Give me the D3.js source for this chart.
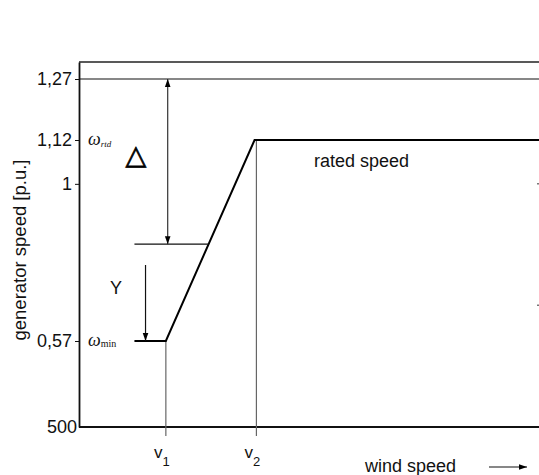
<!DOCTYPE html>
<html><head><meta charset="utf-8">
<script src="https://cdn.jsdelivr.net/npm/d3@7"></script>
<style>
html,body{margin:0;padding:0;background:#fff;}
svg{display:block;font-family:"Liberation Sans",Arial,sans-serif;}
</style></head>
<body><svg id="c" width="539" height="475"></svg>
<script>
// ---- data ----
const yTickValues = [0.3, 0.57, 1, 1.12, 1.27];
const yTickLabels = ["500", "0,57", "1", "1,12", "1,27"];
const xMarkers = [4.7, 9.6];           // v1, v2
const xMarkerNames = ["1", "2"];
const xMarkerLevels = [0.57, 1.12];
const curveX = [3.0, 4.7, 9.5, 25];
const curveY = [0.57, 0.57, 1.12, 1.12];
const maxLevel = 1.27;
const deltaLevel = 0.835;
const deltaLineX = [3.0, 7.0];
const deltaArrowX = 4.8;
const yArrowX = 3.6;
const yArrowTop = 0.778;
const rightTicks = [1, 0.668];

const svg = d3.select("#c");
const x = d3.scaleLinear().domain([0, 25]).range([79, 541]);
const y = d3.scaleLinear().domain([0.3, 0.57, 1.12, 1.27, 1.32]).range([427, 341, 140, 79, 62]);

const defs = svg.append("defs");
function marker(id, orient) {
  defs.append("marker").attr("id", id).attr("viewBox", "0 0 10 10")
    .attr("refX", 10).attr("refY", 5).attr("markerWidth", 8).attr("markerHeight", 8)
    .attr("markerUnits", "userSpaceOnUse").attr("orient", orient)
    .append("path").attr("d", "M0,1.5 L10,5 L0,8.5 Z").attr("fill", "#000");
}
marker("ah", "auto");
marker("ahs", "auto-start-reverse");

// frame
const X0 = x.range()[0], X1 = x.range()[1];
svg.append("line").attr("x1", X0).attr("x2", X1).attr("y1", y(1.32)).attr("y2", y(1.32)).attr("stroke", "#222").attr("stroke-width", 1.5);
svg.append("line").attr("x1", X1).attr("x2", X1).attr("y1", y(1.32)).attr("y2", y(0.3)).attr("stroke", "#222").attr("stroke-width", 1.5);
svg.append("line").attr("x1", X0).attr("x2", X1).attr("y1", y(0.3)).attr("y2", y(0.3)).attr("stroke", "#111").attr("stroke-width", 2);

// left axis
const ax = svg.append("g").attr("transform", `translate(${X0},0)`)
  .call(d3.axisLeft(y).tickValues(yTickValues).tickFormat((d, i) => yTickLabels[i]).tickSize(4).tickSizeOuter(0).tickPadding(3));
ax.select(".domain").attr("stroke", "#111").attr("stroke-width", 1.8);
ax.selectAll(".tick line").attr("stroke", "#111");
ax.selectAll(".tick text").attr("font-size", 18).attr("font-family", "Liberation Sans, Arial, sans-serif").attr("fill", "#111");
ax.selectAll(".tick").filter(d => d === 0.3).select("line").remove();
ax.selectAll(".tick").filter(d => d === 0.3).select("text").attr("x", -2);

// right tiny ticks
svg.selectAll(".rt").data(rightTicks).enter().append("line")
  .attr("x1", X1 - 4).attr("x2", X1).attr("y1", d => y(d)).attr("y2", d => y(d)).attr("stroke", "#333").attr("stroke-width", 1);

// max level line (1.27)
svg.append("line").attr("x1", X0).attr("x2", X1).attr("y1", y(maxLevel)).attr("y2", y(maxLevel)).attr("stroke", "#111").attr("stroke-width", 1.2);

// v markers
xMarkers.forEach((v, i) => {
  svg.append("line").attr("x1", x(v)).attr("x2", x(v)).attr("y1", y(xMarkerLevels[i])).attr("y2", y(0.3) + 9)
    .attr("stroke", "#666").attr("stroke-width", 1.2);
  const t = svg.append("text").attr("x", x(v) - 4).attr("y", 458).attr("font-size", 17).attr("fill", "#111").attr("text-anchor", "middle");
  t.append("tspan").text("v");
  t.append("tspan").attr("dy", 8).attr("font-size", 13).text(xMarkerNames[i]);
});

// curve
const line = d3.line().x((d, i) => x(curveX[i])).y((d, i) => y(curveY[i]));
svg.append("path").datum(curveX).attr("d", line).attr("fill", "none").attr("stroke", "#000").attr("stroke-width", 2);

// delta level line
svg.append("line").attr("x1", x(deltaLineX[0])).attr("x2", x(deltaLineX[1])).attr("y1", y(deltaLevel)).attr("y2", y(deltaLevel))
  .attr("stroke", "#111").attr("stroke-width", 1.2);

// delta double arrow
svg.append("line").attr("x1", x(deltaArrowX)).attr("x2", x(deltaArrowX)).attr("y1", y(maxLevel)).attr("y2", y(deltaLevel))
  .attr("stroke", "#333").attr("stroke-width", 1.2).attr("marker-start", "url(#ahs)").attr("marker-end", "url(#ah)");

// Y arrow
svg.append("line").attr("x1", x(yArrowX)).attr("x2", x(yArrowX)).attr("y1", y(yArrowTop)).attr("y2", y(0.57))
  .attr("stroke", "#111").attr("stroke-width", 1.2).attr("marker-end", "url(#ah)");

// labels
svg.append("text").attr("x", 116).attr("y", 294).attr("text-anchor", "middle").attr("font-size", 18).attr("fill", "#111").text("Y");
svg.append("text").attr("x", 136).attr("y", 164).attr("text-anchor", "middle").attr("font-size", 27)
  .attr("font-family", "DejaVu Sans").attr("fill", "#000").attr("stroke", "#000").attr("stroke-width", 0.7).text("△");

const wr = svg.append("text").attr("x", 88).attr("y", 145).attr("font-family", "Liberation Serif, serif").attr("fill", "#111");
wr.append("tspan").attr("font-size", 18).attr("font-style", "italic").text("ω");
wr.append("tspan").attr("font-size", 9).attr("font-style", "italic").attr("dy", 2).text("rtd");
const wm = svg.append("text").attr("x", 88).attr("y", 346).attr("font-family", "Liberation Serif, serif").attr("fill", "#111");
wm.append("tspan").attr("font-size", 18).attr("font-style", "italic").text("ω");
wm.append("tspan").attr("font-size", 10).attr("dy", 1).text("min");

svg.append("text").attr("x", 314).attr("y", 167).attr("font-size", 18).attr("fill", "#111").text("rated speed");
svg.append("text").attr("x", 365).attr("y", 472).attr("font-size", 18).attr("fill", "#111").text("wind speed");
svg.append("line").attr("x1", 489).attr("x2", 527).attr("y1", 467).attr("y2", 467).attr("stroke", "#111").attr("stroke-width", 1.2).attr("marker-end", "url(#ah)");

svg.append("text").attr("transform", "translate(26,250) rotate(-90)").attr("text-anchor", "middle")
  .attr("font-size", 18.5).attr("fill", "#111").text("generator speed [p.u.]");
</script></body></html>
